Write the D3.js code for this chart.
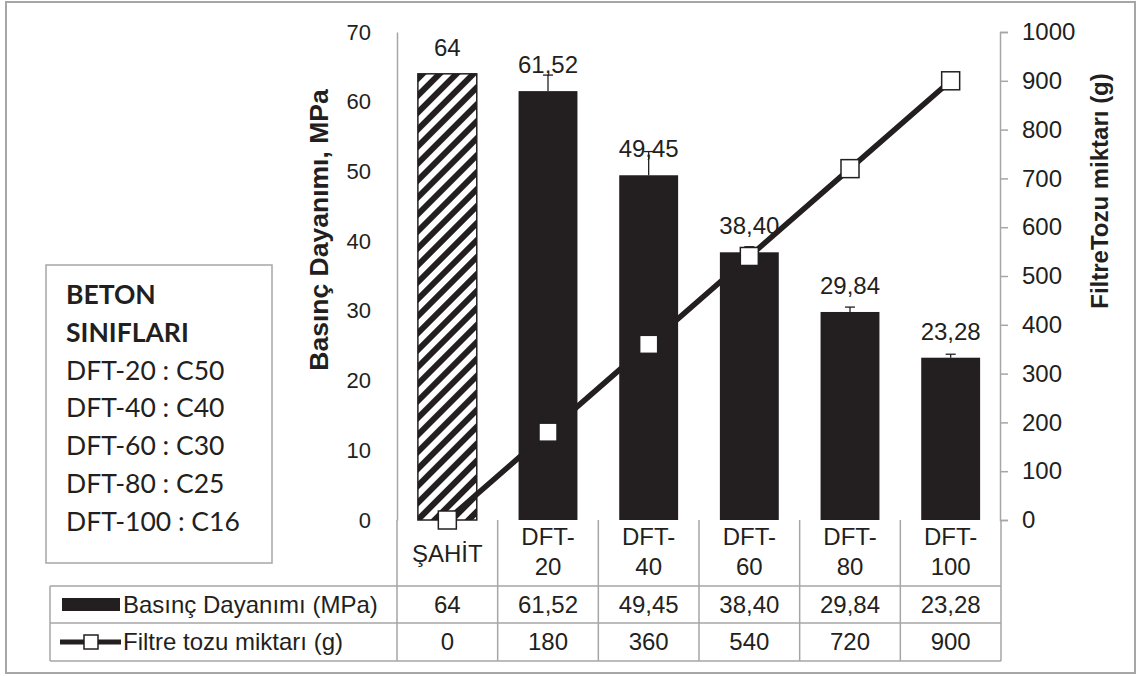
<!DOCTYPE html>
<html>
<head>
<meta charset="utf-8">
<script src="https://cdn.jsdelivr.net/npm/d3@7"></script>
<style>
  body { margin: 0; background: #fff; }
  svg { display: block; }
</style>
</head>
<body>
<div id="chart"></div>
<script>
// categories (mixes) and measured values
const categories = ["ŞAHİT", "DFT-20", "DFT-40", "DFT-60", "DFT-80", "DFT-100"];
const strength = [64, 61.52, 49.45, 38.40, 29.84, 23.28];      // MPa
const strengthErr = [0, 2.3, 3.4, 0.8, 0.7, 0.5];              // plus error bars
const filterDust = [0, 180, 360, 540, 720, 900];               // g
const leftTicks = [0, 10, 20, 30, 40, 50, 60, 70];
const rightTicks = [0, 100, 200, 300, 400, 500, 600, 700, 800, 900, 1000];
const seriesNames = ["Basınç Dayanımı (MPa)", "Filtre tozu miktarı (g)"];
const classTitle = ["BETON", "SINIFLARI"];
const classes = ["DFT-20 : C50", "DFT-40 : C40", "DFT-60 : C30", "DFT-80 : C25", "DFT-100 : C16"];

(function(){
    const width = 1145;
    const height = 676;
    const ink = "#231f20";
    const gray = "#a6a6a6";
    const arial = "'Liberation Sans', Arial, sans-serif";

    // turkish number format, decimal comma
    const tr = d3.formatLocale({decimal: ",", thousands: ".", grouping: [3], currency: ["", " TL"]});
    const fmt = v => Number.isInteger(v) ? tr.format("d")(v) : tr.format(".2f")(v);

    const svg = d3.select("#chart")
        .append("svg")
        .attr("width", width)
        .attr("height", height);

    const defs = svg.append("defs");
    const hatch = defs.append("pattern")
        .attr("id", "hatch")
        .attr("patternUnits", "userSpaceOnUse")
        .attr("width", 12)
        .attr("height", 12)
        .attr("patternTransform", "rotate(45)");
    hatch.append("rect").attr("width", 12).attr("height", 12).attr("fill", "#fff");
    hatch.append("rect").attr("width", 6).attr("height", 12).attr("fill", ink);

    // chart area border
    svg.append("rect")
        .attr("x", 6).attr("y", 2)
        .attr("width", 1129).attr("height", 671)
        .attr("fill", "#fff")
        .attr("stroke", gray)
        .attr("stroke-width", 2);

    // scales
    const x = d3.scaleBand().domain(categories).range([397, 1001]).padding(0);
    const yL = d3.scaleLinear().domain([0, 70]).range([520, 32]);
    const yR = d3.scaleLinear().domain([0, 1000]).range([520, 32]);
    const barW = x.bandwidth() * 0.585;
    const cx = c => x(c) + x.bandwidth() / 2;

    // left axis
    const gl = svg.append("g")
        .attr("transform", "translate(397,0)")
        .attr("font-family", arial)
        .call(d3.axisLeft(yL).tickValues(leftTicks).tickSize(0).tickPadding(26));
    gl.select(".domain").attr("stroke", gray).attr("stroke-width", 1.5);
    gl.selectAll("text").attr("font-family", arial).attr("font-size", 22).attr("fill", ink);

    // right axis
    const gr = svg.append("g")
        .attr("transform", "translate(1000,0)")
        .attr("font-family", arial)
        .call(d3.axisRight(yR).tickValues(rightTicks).tickFormat(d3.format("d")).tickSize(8).tickPadding(14));
    gr.selectAll(".domain, line").attr("stroke", gray).attr("stroke-width", 1.5);
    gr.selectAll("text").attr("font-family", arial).attr("font-size", 24).attr("fill", ink);

    // axis titles
    svg.append("text")
        .attr("transform", "translate(328,230) rotate(-90)")
        .attr("text-anchor", "middle")
        .attr("font-family", arial)
        .attr("font-weight", "bold")
        .attr("font-size", 26.5)
        .attr("fill", ink)
        .text("Basınç Dayanımı, MPa");

    svg.append("text")
        .attr("transform", "translate(1108,191) rotate(-90)")
        .attr("text-anchor", "middle")
        .attr("font-family", arial)
        .attr("font-weight", "bold")
        .attr("font-size", 24)
        .attr("fill", ink)
        .text("FiltreTozu miktarı (g)");

    const bars = categories.map((c, i) => ({c: c, v: strength[i], e: strengthErr[i], i: i}));

    // bars
    svg.selectAll(".bar")
        .data(bars)
        .enter()
        .append("rect")
        .attr("class", "bar")
        .attr("x", d => cx(d.c) - barW / 2)
        .attr("y", d => yL(d.v))
        .attr("width", barW)
        .attr("height", d => yL(0) - yL(d.v))
        .attr("fill", d => d.i === 0 ? "url(#hatch)" : ink)
        .attr("stroke", ink)
        .attr("stroke-width", d => d.i === 0 ? 1.5 : 0);

    // data labels
    svg.selectAll(".val")
        .data(bars)
        .enter()
        .append("text")
        .attr("class", "val")
        .attr("x", d => cx(d.c))
        .attr("y", d => yL(d.v) - 18)
        .attr("text-anchor", "middle")
        .attr("font-family", arial)
        .attr("font-size", 24)
        .attr("fill", ink)
        .text(d => fmt(d.v));

    // error bars (plus only)
    const err = svg.selectAll(".err")
        .data(bars.filter(d => d.e > 0))
        .enter()
        .append("g")
        .attr("class", "err")
        .attr("stroke", ink)
        .attr("stroke-width", 1.3);
    err.append("line")
        .attr("x1", d => cx(d.c)).attr("x2", d => cx(d.c))
        .attr("y1", d => yL(d.v)).attr("y2", d => yL(d.v + d.e));
    err.append("line")
        .attr("x1", d => cx(d.c) - 5).attr("x2", d => cx(d.c) + 5)
        .attr("y1", d => yL(d.v + d.e)).attr("y2", d => yL(d.v + d.e));

    // filter dust line with square markers
    const line = d3.line()
        .x((d, i) => cx(categories[i]))
        .y(d => yR(d));
    svg.append("path")
        .datum(filterDust)
        .attr("d", line)
        .attr("fill", "none")
        .attr("stroke", ink)
        .attr("stroke-width", 5.5);

    svg.selectAll(".mark")
        .data(filterDust)
        .enter()
        .append("rect")
        .attr("class", "mark")
        .attr("x", (d, i) => cx(categories[i]) - 9)
        .attr("y", d => yR(d) - 9)
        .attr("width", 18)
        .attr("height", 18)
        .attr("fill", "#fff")
        .attr("stroke", ink)
        .attr("stroke-width", 1.5);

    // data table
    const colX = categories.map(c => x(c)).concat([x.range()[1]]);
    const table = svg.append("g").attr("stroke", gray).attr("stroke-width", 1.5);
    [586, 623, 661].forEach(y => {
        table.append("line").attr("x1", 50).attr("x2", 1001).attr("y1", y).attr("y2", y);
    });
    table.append("line").attr("x1", 50).attr("x2", 50).attr("y1", 586).attr("y2", 661);
    colX.forEach(xx => {
        table.append("line").attr("x1", xx).attr("x2", xx).attr("y1", 520).attr("y2", 661);
    });

    // category labels, wrapped after the hyphen
    const cat = svg.selectAll(".cat")
        .data(categories)
        .enter()
        .append("text")
        .attr("class", "cat")
        .attr("text-anchor", "middle")
        .attr("font-family", arial)
        .attr("font-size", 24)
        .attr("fill", ink);
    cat.each(function(c) {
        const parts = c.includes("-") ? [c.split("-")[0] + "-", c.split("-")[1]] : [c];
        const t = d3.select(this);
        if (parts.length === 1) {
            t.append("tspan").attr("x", cx(c)).attr("y", 562).text(parts[0]);
        } else {
            t.append("tspan").attr("x", cx(c)).attr("y", 545).text(parts[0]);
            t.append("tspan").attr("x", cx(c)).attr("y", 575).text(parts[1]);
        }
    });

    // table values
    [strength, filterDust].forEach((arr, r) => {
        svg.selectAll(".row" + r)
            .data(arr)
            .enter()
            .append("text")
            .attr("x", (d, i) => cx(categories[i]))
            .attr("y", r === 0 ? 613 : 650)
            .attr("text-anchor", "middle")
            .attr("font-family", arial)
            .attr("font-size", 24)
            .attr("fill", ink)
            .text(d => fmt(d));
    });

    // row headers with legend keys
    svg.append("rect")
        .attr("x", 62).attr("y", 598)
        .attr("width", 58).attr("height", 13)
        .attr("fill", ink);
    svg.append("line")
        .attr("x1", 60).attr("x2", 121)
        .attr("y1", 642).attr("y2", 642)
        .attr("stroke", ink).attr("stroke-width", 5);
    svg.append("rect")
        .attr("x", 84).attr("y", 635)
        .attr("width", 14).attr("height", 14)
        .attr("fill", "#fff").attr("stroke", ink).attr("stroke-width", 1.5);

    seriesNames.forEach((s, i) => {
        svg.append("text")
            .attr("x", 123)
            .attr("y", i === 0 ? 613 : 650)
            .attr("font-family", arial)
            .attr("font-size", 24)
            .attr("fill", ink)
            .text(s);
    });

    // concrete class box
    svg.append("rect")
        .attr("x", 46).attr("y", 265)
        .attr("width", 226).attr("height", 298)
        .attr("fill", "#fff")
        .attr("stroke", gray)
        .attr("stroke-width", 1.5);

    const boxLines = classTitle.concat(classes);
    svg.selectAll(".cls")
        .data(boxLines)
        .enter()
        .append("text")
        .attr("class", "cls")
        .attr("x", 66)
        .attr("y", (d, i) => 304 + i * 37.8)
        .attr("font-family", "Lato, 'Open Sans', sans-serif")
        .attr("font-size", 26.5)
        .attr("font-weight", (d, i) => i < classTitle.length ? "bold" : "normal")
        .attr("fill", ink)
        .text(d => d);
})();
</script>
</body>
</html>
